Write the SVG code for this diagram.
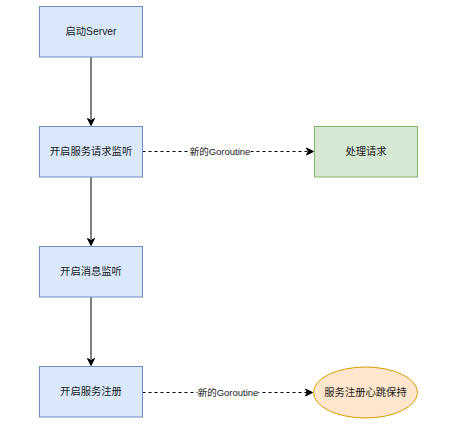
<svg xmlns="http://www.w3.org/2000/svg" width="458" height="427" viewBox="0 0 458 427">
<style>
text{font-family:"Liberation Sans","Noto Sans CJK SC",sans-serif;fill:#1a1a1a;text-anchor:middle}
.n{font-size:10.3px}
.l{font-size:9.5px}
.blue{fill:#dae8fc;stroke:#6c8ebf;stroke-width:1}
.green{fill:#d5e8d4;stroke:#82b366;stroke-width:1}
.orange{fill:#ffe6cc;stroke:#d79b00;stroke-width:1}
.edge{fill:none;stroke:#000;stroke-width:1}
.dash{stroke-dasharray:3 3}
.head{fill:#000;stroke:#000;stroke-width:1}
</style>
<rect width="458" height="427" fill="#fff"/>
<g id="connectors">
<g id="e1"><path class="edge" d="M91,57 V119"/><path class="head" d="M91,125.5 L87.5,118.5 L91,120.3 L94.5,118.5 Z"/></g>
<g id="e2"><path class="edge" d="M91,177 V239"/><path class="head" d="M91,245.5 L87.5,238.5 L91,240.3 L94.5,238.5 Z"/></g>
<g id="e3"><path class="edge" d="M91,297 V359"/><path class="head" d="M91,365.5 L87.5,358.5 L91,360.3 L94.5,358.5 Z"/></g>
<g id="e4"><path class="edge dash" d="M142.5,151.5 H308"/><path class="head" d="M313.5,151.5 L306.5,148 L308.3,151.5 L306.5,155 Z"/>
<rect x="189.5" y="146" width="61" height="11" fill="#fff"/><text class="l" x="220" y="154.8">新的Goroutine</text></g>
<g id="e5"><path class="edge dash" d="M142.5,392.5 H307"/><path class="head" d="M312.5,392.5 L305.5,389 L307.3,392.5 L305.5,396 Z"/>
<rect x="197.5" y="387" width="61" height="11" fill="#fff"/><text class="l" x="228" y="395.8">新的Goroutine</text></g>
</g>
<g id="n1"><rect class="blue" x="39.5" y="6.5" width="103" height="50.5"/><text class="n" x="91" y="35.3">启动Server</text></g>
<g id="n2"><rect class="blue" x="39.5" y="126.5" width="103" height="50.5"/><text class="n" x="91" y="155.3">开启服务请求监听</text></g>
<g id="n3"><rect class="blue" x="39.5" y="246.5" width="103" height="50.5"/><text class="n" x="91" y="275.3">开启消息监听</text></g>
<g id="n4"><rect class="blue" x="39.5" y="366.5" width="103" height="50.5"/><text class="n" x="91" y="395.3">开启服务注册</text></g>
<g id="n5"><rect class="green" x="314.5" y="126.5" width="103" height="50.5"/><text class="n" x="366" y="155.3">处理请求</text></g>
<g id="n6"><ellipse class="orange" cx="365.5" cy="392.5" rx="52" ry="25.5"/><text class="n" x="365.5" y="396.3">服务注册心跳保持</text></g>
</svg>
